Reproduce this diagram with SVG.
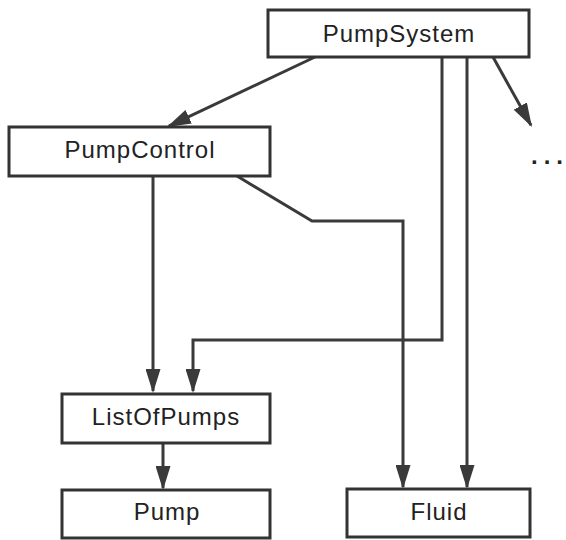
<svg xmlns="http://www.w3.org/2000/svg" width="566" height="540" viewBox="0 0 566 540">
<defs>
<style>
.box{fill:#fff;stroke:#333;stroke-width:3}
.lbl{font-family:"Liberation Sans",Arial,sans-serif;font-size:24px;fill:#222;text-anchor:middle;letter-spacing:1px}
.edge{fill:none;stroke:#3a3a3a;stroke-width:3;stroke-linejoin:miter}
</style>
<marker id="arr" markerUnits="userSpaceOnUse" markerWidth="24" markerHeight="15" refX="22" refY="7.5" orient="auto" viewBox="0 0 24 15">
<path d="M0,0 L24,7.5 L0,15 z" fill="#3a3a3a"/>
</marker>
</defs>
<rect width="566" height="540" fill="#fff"/>
<g id="connectors">
<path class="edge" marker-end="url(#arr)" d="M315,57 L168.8,126.1"/>
<path class="edge" marker-end="url(#arr)" d="M493,57 L531,125.3"/>
<path class="edge" marker-end="url(#arr)" d="M153,176 L153,391"/>
<path class="edge" marker-end="url(#arr)" d="M237,176 L312,221 L403,221 L403,487"/>
<path class="edge" marker-end="url(#arr)" d="M442,57 L442,340 L193,340 L193,391"/>
<path class="edge" marker-end="url(#arr)" d="M467,57 L467,487"/>
<path class="edge" marker-end="url(#arr)" d="M163,443 L163,488"/>
</g>
<g id="PumpSystem">
<rect class="box" x="268" y="10" width="261" height="47"/>
<text class="lbl" x="399" y="42">PumpSystem</text>
</g>
<g id="PumpControl">
<rect class="box" x="9" y="127" width="261" height="49"/>
<text class="lbl" x="140" y="158">PumpControl</text>
</g>
<g id="ListOfPumps">
<rect class="box" x="62" y="394" width="208" height="49"/>
<text class="lbl" x="166" y="425">ListOfPumps</text>
</g>
<g id="Pump">
<rect class="box" x="62" y="490" width="208" height="48"/>
<text class="lbl" x="167" y="520">Pump</text>
</g>
<g id="Fluid">
<rect class="box" x="347" y="489" width="183" height="48"/>
<text class="lbl" x="439" y="520">Fluid</text>
</g>
<g id="more">
<text x="531" y="164" style="font-family:'Liberation Sans',Arial,sans-serif;font-size:24px;font-weight:bold;fill:#222">.<tspan dx="6">.</tspan><tspan dx="6">.</tspan></text>
</g>
</svg>
